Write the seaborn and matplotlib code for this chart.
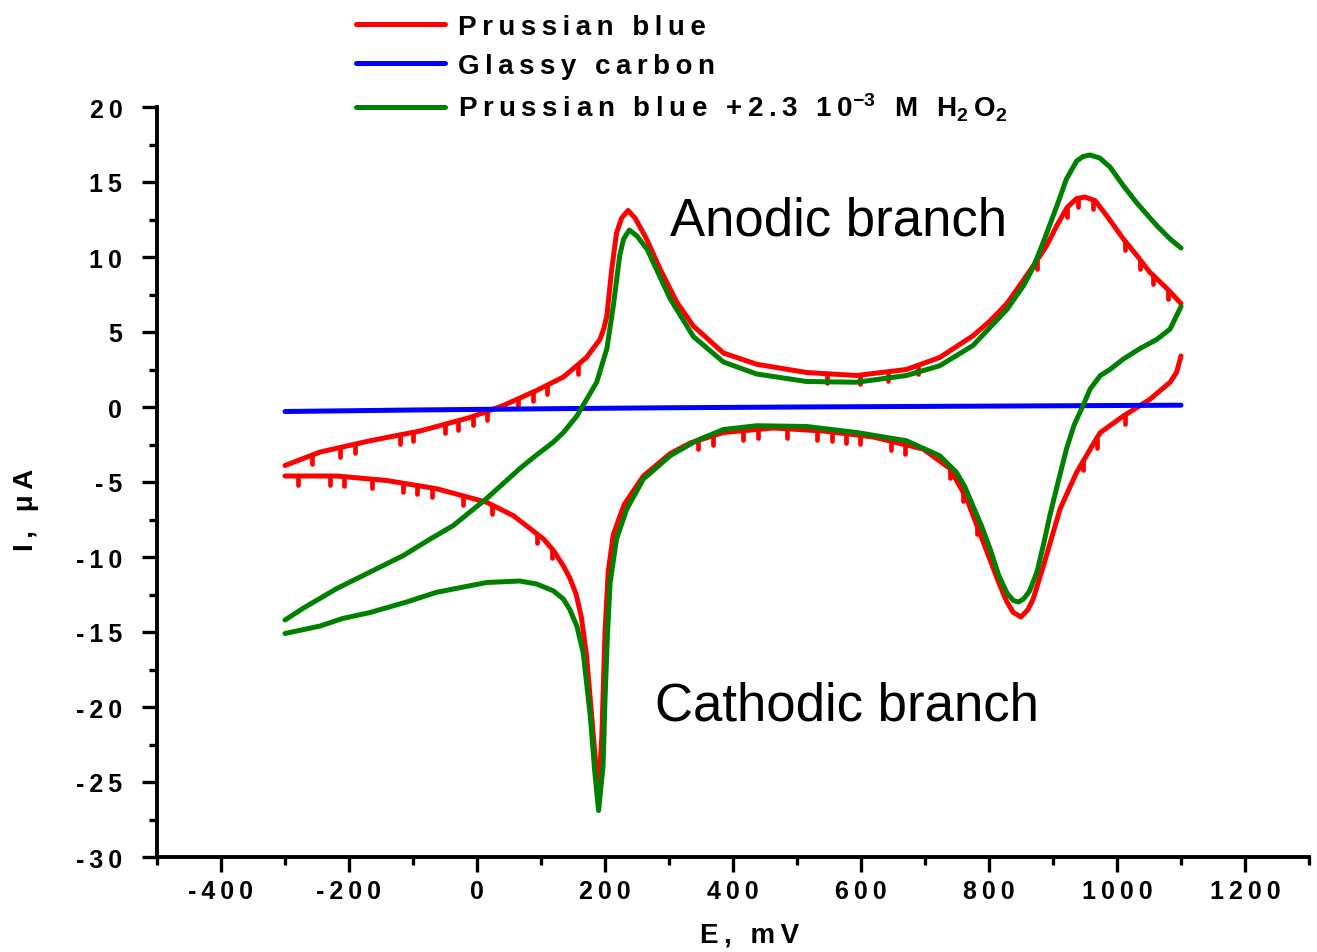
import matplotlib
matplotlib.use("Agg")
import matplotlib.pyplot as plt
from matplotlib.ticker import MultipleLocator, FuncFormatter
import seaborn as sns
import numpy as np

# potentials (mV) and currents (uA)
red_fwd_E = [-300, -245, -167, -89, -11, 41, 93, 135, 171, 192, 198, 203, 210, 218, 226, 236,
             247, 265, 286, 312, 338, 385, 437, 515, 593, 671, 723, 775, 802, 828, 848,
             869, 890, 906, 922, 937, 950, 966, 984, 1010, 1031, 1051, 1078, 1100]
red_fwd_I = [-3.9, -3.0, -2.25, -1.6, -0.7, 0.1, 1.1, 2.0, 3.3, 4.5, 5.2, 6.1, 9.0, 11.6, 12.6, 13.1,
             12.6, 11.2, 9.2, 7.0, 5.4, 3.6, 2.85, 2.3, 2.1, 2.5, 3.3, 4.75, 5.75, 6.9, 8.1,
             9.4, 10.75, 12.1, 13.3, 13.9, 14.0, 13.75, 12.75, 11.2, 10.1, 9.0, 7.9, 6.9]
red_rev_E = [1100, 1093, 1083, 1051, 1010, 974, 968, 937, 911, 885, 869, 861, 850, 838, 828,
             817, 791, 765, 739, 697, 619, 541, 463, 385, 333, 302, 260, 230, 213, 205,
             200, 195, 190, 185, 179, 171, 163, 155, 145, 135, 120, 104, 57, 15, -63, -141,
             -219, -300]
red_rev_I = [3.4, 2.3, 1.65, 0.5, -0.6, -1.7, -2.1, -4.35, -6.8, -10.6, -12.8, -13.5, -14.0, -13.7, -13.0,
             -11.9, -9.0, -6.1, -4.1, -2.8, -2.0, -1.6, -1.4, -1.7, -2.4, -3.1, -4.6, -6.5, -8.5, -11.0,
             -15.0, -22.0, -25.8, -23.5, -20.5, -16.5, -14.0, -12.5, -11.4, -10.6, -9.6, -8.8, -7.25, -6.35, -5.45, -4.9,
             -4.6, -4.6]

green_fwd_E = [-300, -271, -219, -167, -115, -73, -37, -11, 15, 41, 67, 93, 119, 135, 156,
               187, 203, 213, 223, 229, 238, 250, 266, 302, 338, 385, 437, 515, 593, 671,
               723, 775, 828, 854, 869, 885, 906, 921, 937, 947, 958, 973, 989, 1010, 1031,
               1062, 1083, 1100]
green_fwd_I = [-14.2, -13.4, -12.1, -11.0, -9.9, -8.8, -7.9, -7.0, -6.1, -5.1, -4.1, -3.2, -2.35, -1.7, -0.6,
               1.65, 3.9, 6.75, 10.1, 11.2, 11.8, 11.4, 10.5, 7.2, 4.7, 3.0, 2.2, 1.7, 1.65, 2.1,
               2.75, 4.1, 6.5, 8.1, 9.3, 11.0, 13.4, 15.2, 16.4, 16.7, 16.8, 16.6, 16.0, 14.75, 13.6,
               12.1, 11.2, 10.6]
green_rev_E = [1100, 1083, 1062, 1036, 1010, 989, 974, 958, 947, 933, 921, 908, 895, 885, 875,
               863, 854, 846, 838, 828, 815, 802, 789, 775, 762, 749, 723, 671, 593, 515,
               437, 385, 343, 302, 260, 234, 218, 208, 204, 200, 197, 190, 184, 177, 166,
               156, 145, 135, 119, 93, 67, 15, -63, -110, -167, -210, -245, -300]
green_rev_I = [6.7, 5.2, 4.5, 3.9, 3.2, 2.5, 2.1, 1.2, 0.1, -1.2, -2.8, -5.0, -7.25, -9.2, -11.0,
               -12.3, -12.8, -13.0, -12.9, -12.4, -11.2, -9.5, -8.0, -6.6, -5.3, -4.35, -3.25, -2.25, -1.7, -1.3,
               -1.25, -1.5, -2.24, -3.24, -4.8, -6.8, -8.8, -11.7, -15.0, -19.5, -23.9, -26.9, -24.3, -20.6, -16.4,
               -14.6, -13.5, -12.8, -12.25, -11.8, -11.6, -11.7, -12.35, -13.0, -13.7, -14.1, -14.6, -15.1]

blue_E = [-300, -100, 100, 300, 500, 700, 900, 1100]
blue_I = [-0.3, -0.2, -0.12, -0.05, 0.0, 0.04, 0.08, 0.12]

# positions of the small noise spikes on the red trace
red_fwd_spikes = [-258, -214, -191, -120, -100, -50, -30, -6, 16, 64, 87, 109, 158,
                  547, 598, 642, 689, 875, 922, 939, 963, 1013, 1036, 1056, 1080]
red_rev_spikes = [1012, 968, 947, 781, 759, 739, 669, 647, 598, 577, 555, 531, 484, 439,
                  416, 368, 346, 117, 94, 23, -22, -70, -94, -115, -164, -208, -230, -279]
spike_depth = 0.6

TS = "\u2009"  # thin space, mimics the wide letter spacing of the original


def spaced(s):
    return TS.join(s)


labels = [spaced("Prussian blue"), spaced("Glassy carbon"),
          spaced("Prussian blue +2.3 10") + r"$^{-3}$" + TS + spaced(" M H") + r"$_2$"
          + TS + "O" + r"$_2$"]

sns.set_style("ticks")
plt.rcParams["font.family"] = ["Liberation Sans", "DejaVu Sans"]
plt.rcParams["mathtext.fontset"] = "custom"
plt.rcParams["mathtext.rm"] = "Liberation Sans:bold"
plt.rcParams["mathtext.bf"] = "Liberation Sans:bold"
plt.rcParams["mathtext.default"] = "bf"
plt.rcParams["axes.unicode_minus"] = False
for k in ["text.color", "axes.labelcolor", "xtick.color", "ytick.color", "axes.edgecolor"]:
    plt.rcParams[k] = "black"

fig = plt.figure(figsize=(13.17, 9.53), dpi=100)
ax = fig.add_axes([157 / 1317, 1 - 858 / 953, 1152 / 1317, 750 / 953])

lw = 3.6
sns.lineplot(x=red_fwd_E, y=red_fwd_I, sort=False, estimator=None, color="#ff0000",
             lw=lw, ax=ax, label=labels[0], zorder=2)
sns.lineplot(x=red_rev_E, y=red_rev_I, sort=False, estimator=None, color="#ff0000",
             lw=lw, ax=ax, zorder=2)
for sp, bE, bI in [(red_fwd_spikes, red_fwd_E, red_fwd_I), (red_rev_spikes, red_rev_E, red_rev_I)]:
    # branch runs either way, so sort before looking up the trace level
    order = np.argsort(bE)
    top = np.interp(sp, np.array(bE)[order], np.array(bI)[order])
    ax.vlines(sp, top - spike_depth, top, color="#ff0000", lw=3.4, capstyle="round", zorder=2)

sns.lineplot(x=blue_E, y=blue_I, sort=False, estimator=None, color="#0000ff",
             lw=lw, ax=ax, label=labels[1], zorder=3)
sns.lineplot(x=green_fwd_E, y=green_fwd_I, sort=False, estimator=None, color="#008000",
             lw=lw, ax=ax, label=labels[2], zorder=4)
sns.lineplot(x=green_rev_E, y=green_rev_I, sort=False, estimator=None, color="#008000",
             lw=lw, ax=ax, zorder=4)
for ln in ax.get_lines():
    ln.set_solid_capstyle("round")
    ln.set_solid_joinstyle("round")

ax.set_xlim(-500, 1300)
ax.set_ylim(-30, 20)
ax.set_xticks(range(-400, 1201, 200))
ax.set_yticks(range(-30, 21, 5))
ax.xaxis.set_minor_locator(MultipleLocator(100))
ax.yaxis.set_minor_locator(MultipleLocator(2.5))
fmt = FuncFormatter(lambda v, p: spaced(str(int(round(v)))))
ax.xaxis.set_major_formatter(fmt)
ax.yaxis.set_major_formatter(fmt)
sns.despine(ax=ax)
for s in ["left", "bottom"]:
    ax.spines[s].set_linewidth(2.8)
ax.tick_params(which="major", length=11, width=2.4, labelsize=18)
ax.tick_params(which="minor", length=6, width=2.4)
ax.tick_params(axis="x", which="major", pad=5)
ax.tick_params(axis="y", which="major", pad=14)
for t in ax.get_xticklabels() + ax.get_yticklabels():
    t.set_fontweight("bold")

ax.set_xlabel(spaced("E, mV"), fontsize=20, fontweight="bold", labelpad=13,
              x=(750 - 157) / 1152)
ax.set_ylabel(spaced("I, \u03bcA"), fontsize=20, fontweight="bold", labelpad=27,
              y=(858 - 510) / 750)

ax.text(302, 12.4, "Anodic branch", fontsize=38, va="center", ha="left")
ax.text(278, -19.9, "Cathodic branch", fontsize=38, va="center", ha="left")

handles, labs = ax.get_legend_handles_labels()
ax.get_legend().remove()
fig.legend(handles, labs, loc="upper left", bbox_to_anchor=(345 / 1317, 1 - 4 / 953),
           frameon=False, prop={"size": 20, "weight": "bold"}, handlelength=3.2,
           handletextpad=0.45, labelspacing=0.45, borderaxespad=0)

fig.savefig("out.png", dpi=100)
